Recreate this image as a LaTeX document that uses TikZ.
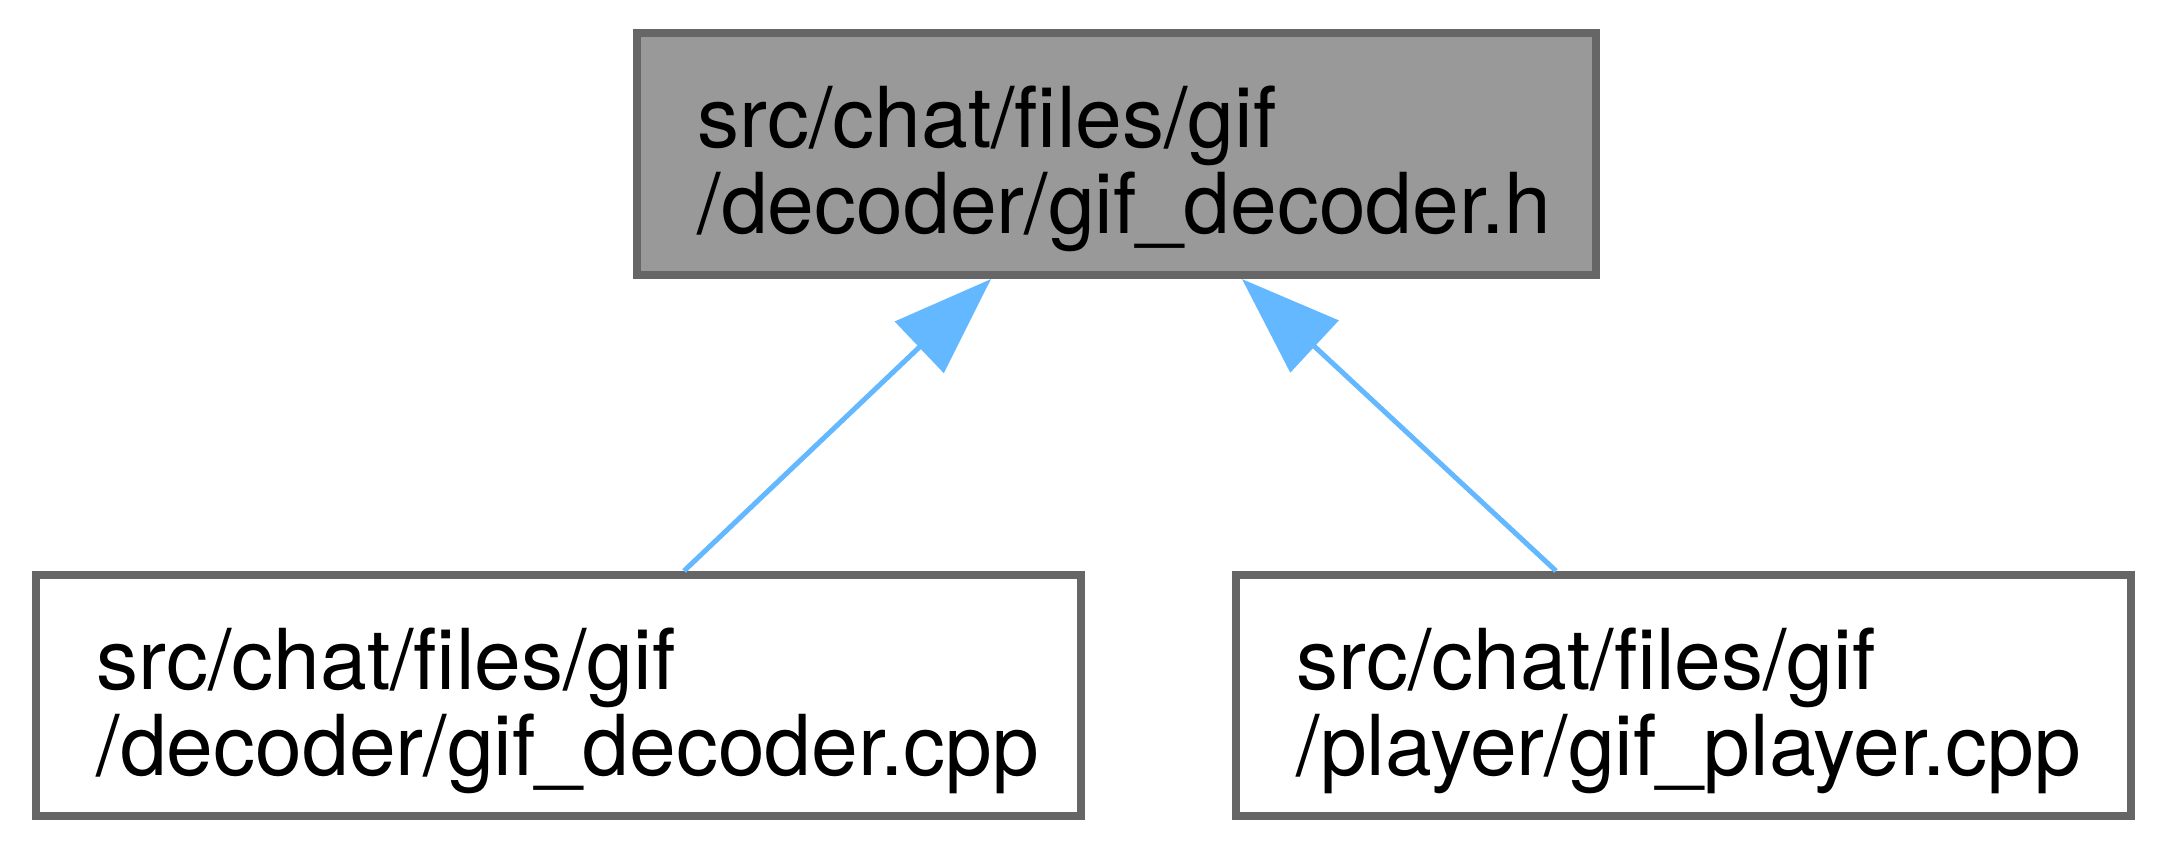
\documentclass[tikz,border=0pt]{standalone}
\usepackage{fontspec}
\setmainfont{TeX Gyre Heros}
\usetikzlibrary{arrows.meta,calc}
\definecolor{nodegray}{HTML}{999999}
\definecolor{bordergray}{HTML}{666666}
\definecolor{edgeblue}{HTML}{63B8FF}
\begin{document}
\begin{tikzpicture}[x=0.01cm,y=0.01cm,
  box/.style={draw=bordergray, line width=0.08cm, rectangle, inner sep=0pt},
  lbl/.style={anchor=base west, inner sep=0pt, font=\fontsize{23.9pt}{24.5pt}\selectfont, text=black},
  edge/.style={draw=edgeblue, line width=0.05cm, -{Triangle[length=0.99cm,width=0.70cm]}}]
\useasboundingbox (0,0) rectangle (2167,850);
\node[box, fill=nodegray, minimum width=9.59cm, minimum height=2.42cm] (top) at (1116.5,696) {};
\node[box, fill=white, minimum width=10.45cm, minimum height=2.41cm] (bl) at (558.5,154.5) {};
\node[box, fill=white, minimum width=8.95cm, minimum height=2.41cm] (br) at (1683.5,154.5) {};
\node[lbl] (top1) at (697,703) {src/chat/files/gif};
\node[lbl] (top2) at (697,617) {/decoder/gif\_decoder.h};
\node[lbl] (bl1) at (96,161) {src/chat/files/gif};
\node[lbl] (bl2) at (96,75) {/decoder/gif\_decoder.cpp};
\node[lbl] (br1) at (1296,161) {src/chat/files/gif};
\node[lbl] (br2) at (1296,75) {/player/gif\_player.cpp};
\draw[edge] ($(bl.north)+(125.5,0)$) -- ($(top.south)+(-125.5,0)$);
\draw[edge] ($(br.north)+(-127.5,0)$) -- ($(top.south)+(125.5,0)$);
\end{tikzpicture}
\end{document}
